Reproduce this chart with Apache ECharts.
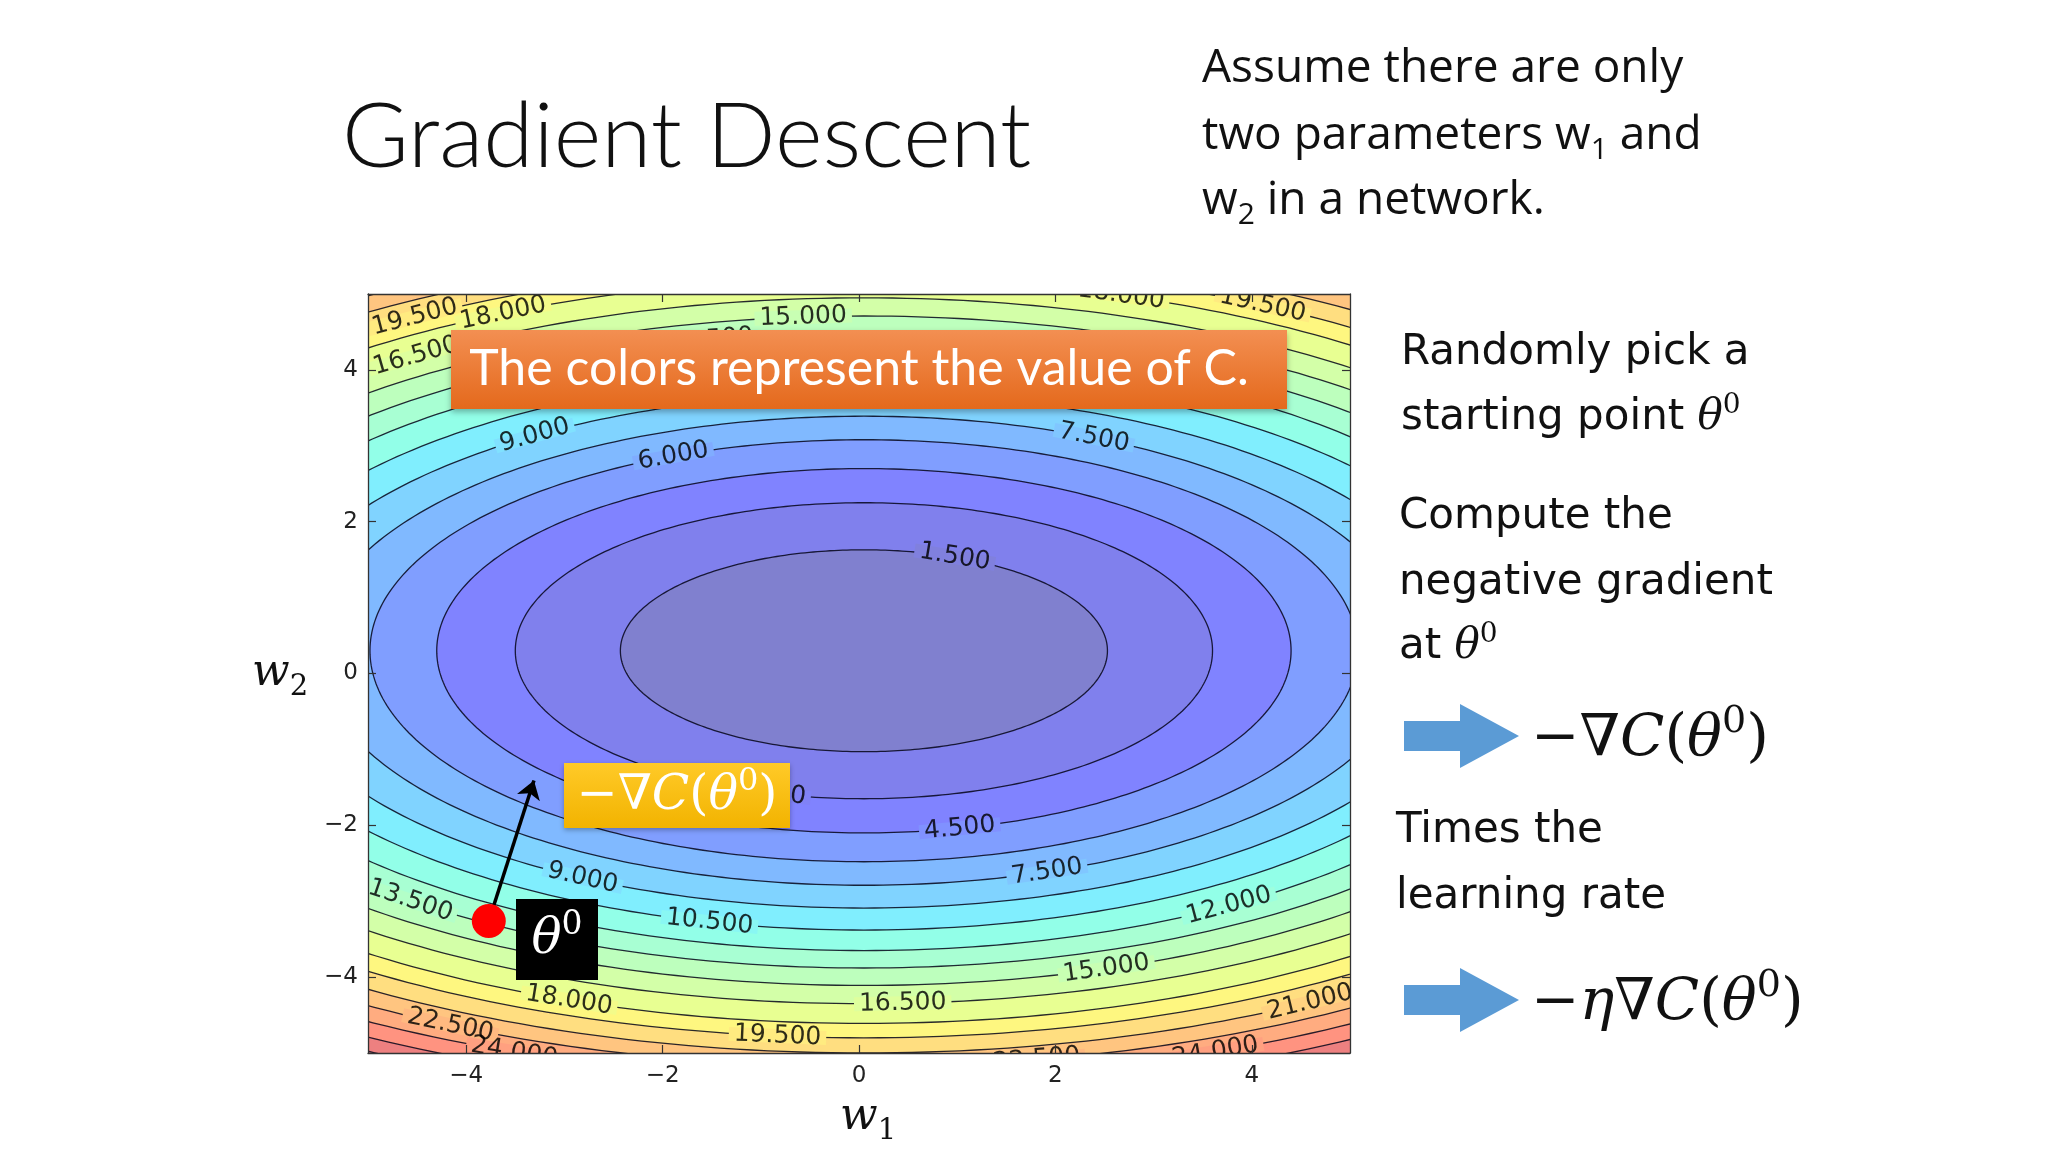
<!DOCTYPE html>
<html><head><meta charset="utf-8">
<script src="https://cdn.jsdelivr.net/npm/echarts@6/dist/echarts.min.js"></script>
<style>html,body{margin:0;padding:0;background:#fff}#c{width:2048px;height:1152px}</style>
</head><body><div id="c"></div>
<script>
// ---------------- data ----------------
// contour levels of C and the semi-axes (in w1 / w2 units) of each level curve
const levels      = [1.5, 3, 4.5, 6, 7.5, 9, 10.5, 12, 13.5, 15, 16.5, 18, 19.5, 21, 22.5, 24, 25.5, 27, 28.5];
const semiAxisW1  = [2.48, 3.55, 4.35, 5.03, 5.59, 6.12, 6.61, 7.07, 7.5, 7.91, 8.29, 8.66, 9.01, 9.35, 9.68, 10.0, 10.31, 10.61, 10.9];
const semiAxisW2  = [1.33, 1.95, 2.40, 2.78, 3.09, 3.39, 3.68, 3.95, 4.18, 4.41, 4.65, 4.91, 5.1, 5.3, 5.48, 5.66, 5.84, 6.0, 6.17];
const minimumAt   = [0.05, 0.3];
const xTicks      = [-4, -2, 0, 2, 4];
const yTicks      = [-4, -2, 0, 2, 4];
// inline contour labels: level, approximate position
const labelLevels = [19.5, 18, 16.5, 13.5, 15, 18, 19.5, 9, 6, 7.5, 1.5, 3, 4.5, 7.5, 9, 10.5, 12, 13.5, 15, 16.5, 18, 19.5, 21, 22.5, 24, 22.5, 24];
const labelW1     = [-4.55, -3.66, -4.58, -1.56, -0.58, 2.63, 4.1, -3.4, -1.94, 2.48, 1.04, -0.9, 1.01, 1.9, -2.78, -1.49, 3.7, -4.55, 2.49, 0.44, -2.89, -0.81, 4.5, -4.09, -3.45, 1.77, 3.53];
const labelW2     = [4.72, 4.79, 4.24, 4.5, 4.78, 4.91, 4.84, 3.22, 2.93, 3.21, 1.62, -1.57, -2.0, -2.59, -2.66, -3.2, -3.0, -2.98, -3.84, -4.28, -4.21, -4.66, -4.24, -4.55, -4.9, -4.97, -4.84];
// starting point theta0 and tip of the negative-gradient arrow
const theta0  = [-3.77, -3.26];
const gradTip = [-3.31, -1.41];

// ---------------- styling helpers ----------------
function interp(t, pts){
  for (let i = 1; i < pts.length; i++){
    if (t <= pts[i][0]){
      const a = pts[i-1], b = pts[i];
      return a[1] + (b[1]-a[1]) * (t-a[0]) / (b[0]-a[0]);
    }
  }
  return pts[pts.length-1][1];
}
function jetRGB(t){
  return [
    interp(t, [[0,0],[0.35,0],[0.66,1],[0.89,1],[1,0.5]]),
    interp(t, [[0,0],[0.125,0],[0.375,1],[0.64,1],[0.91,0],[1,0]]),
    interp(t, [[0,0.5],[0.11,1],[0.34,1],[0.65,0],[1,0]])
  ];
}
const ALPHA = 0.5;
function bandRGB(i){
  if (i >= levels.length) i = levels.length - 1;
  const lo = i === 0 ? 0 : levels[i-1], hi = levels[i];
  const t = ((lo + hi) / 2) / levels[levels.length-1];
  return jetRGB(t).map(v => Math.round(255 * (ALPHA * v + 1 - ALPHA)));
}
const rgb = c => 'rgb(' + c.join(',') + ')';
const LINE = 'rgba(5,5,25,0.85)';

function clipOf(params){
  const cs = params.coordSys;
  return {type:'rect', shape:{x:cs.x, y:cs.y, width:cs.width, height:cs.height}};
}
function renderContour(params, api){
  const L = api.value(0), rx = api.value(1), ry = api.value(2);
  const idx = levels.indexOf(L);
  const pts = [];
  const N = 360;
  for (let k = 0; k < N; k++){
    const a = k / N * Math.PI * 2;
    pts.push(api.coord([minimumAt[0] + rx * Math.cos(a), minimumAt[1] + ry * Math.sin(a)]));
  }
  return {type:'group', clipPath: clipOf(params), children:[
    {type:'polygon', shape:{points: pts},
     style:{fill: rgb(bandRGB(idx)), stroke: idx === levels.length-1 ? null : LINE, lineWidth: 1.3}}
  ]};
}
function renderLabel(params, api){
  const x = api.value(0), y = api.value(1), L = api.value(2);
  const idx = levels.indexOf(L);
  const rx = semiAxisW1[idx], ry = semiAxisW2[idx];
  const a = Math.atan2((y - minimumAt[1]) / ry, (x - minimumAt[0]) / rx);
  const p = api.coord([minimumAt[0] + rx * Math.cos(a), minimumAt[1] + ry * Math.sin(a)]);
  const s = api.size([1, 1]);
  const dxp = -rx * Math.sin(a) * s[0];
  const dyp = -ry * Math.cos(a) * s[1];
  let ang = Math.atan2(dyp, dxp);
  if (ang > Math.PI/2) ang -= Math.PI;
  if (ang < -Math.PI/2) ang += Math.PI;
  const c1 = bandRGB(idx), c2 = bandRGB(idx+1);
  const bg = rgb(c1.map((v,k) => Math.round((v + c2[k]) / 2)));
  return {type:'group', clipPath: clipOf(params), children:[
    {type:'text', x: p[0], y: p[1], rotation: -ang,
     style:{text: L.toFixed(3), fontFamily:'DejaVu Sans', fontSize: 25, fill:'rgba(0,0,0,0.82)',
            align:'center', verticalAlign:'middle', textAlign:'center', textVerticalAlign:'middle',
            backgroundColor: bg, padding:[0,5], lineHeight: 14}}
  ]};
}
const fmt = v => (v < 0 ? '\u2212' + (-v) : String(v));

// math rich styles
function mathRich(size, color){
  const lh = Math.round(size * 1.25);
  return {
    m:{fontFamily:'DejaVu Serif', fontSize:size, fill:color, color:color, lineHeight:lh},
    i:{fontFamily:'DejaVu Serif', fontStyle:'italic', fontSize:size, fill:color, color:color, lineHeight:lh},
    s:{fontFamily:'DejaVu Serif', fontSize:Math.round(size*0.66), fill:color, color:color, lineHeight:Math.round(size*0.76), verticalAlign:'top'},
    b:{fontFamily:'DejaVu Serif', fontSize:Math.round(size*0.66), fill:color, color:color, lineHeight:Math.round(size*0.76), verticalAlign:'bottom'},
    n:{fontFamily:'DejaVu Sans', fontSize:42, fill:color, color:color, lineHeight:lh},
    o:{fontFamily:'Open Sans', fontSize:46, fill:color, color:color, lineHeight:lh},
    ob:{fontFamily:'Open Sans', fontSize:30, fill:color, color:color, lineHeight:Math.round(size*0.6), verticalAlign:'bottom'}
  };
}
function txt(x, y, text, rich, extra){
  return Object.assign({type:'text', x:x, y:y, z:100,
    style:{text:text, rich:rich, align:'left', verticalAlign:'middle', textAlign:'left', textVerticalAlign:'middle'}}, extra || {});
}
function ctxt(x, y, text, rich){
  return {type:'text', x:x, y:y, z:101,
    style:{text:text, rich:rich, align:'center', verticalAlign:'middle', textAlign:'center', textVerticalAlign:'middle'}};
}
function blueArrow(yc){
  return {type:'polygon', z:100, shape:{points:[[1404,yc-15],[1460,yc-15],[1460,yc-32],[1519,yc],[1460,yc+32],[1460,yc+15],[1404,yc+15]]},
          style:{fill:'#5b9bd5'}};
}

const K = '#111';
const contourData = levels.map((L, i) => [L, semiAxisW1[i], semiAxisW2[i]]).reverse();
const labelData = labelLevels.map((L, i) => [labelW1[i], labelW2[i], L]);

const axisCommon = {type:'value', min:-5, max:5, z:10,
  axisLine:{show:true, onZero:false, lineStyle:{color:'#333', width:1.3}},
  splitLine:{show:false}};

const option = {
  animation:false,
  backgroundColor:'#ffffff',
  grid:{left:368, top:294, width:982, height:759, show:false},
  xAxis:[
    Object.assign({}, axisCommon, {position:'bottom',
      axisTick:{show:true, inside:true, length:8, customValues:xTicks, lineStyle:{color:'#333', width:1.2}},
      axisLabel:{show:true, customValues:xTicks, formatter:fmt, margin:12, fontFamily:'DejaVu Sans', fontSize:23, color:'#222'}}),
    Object.assign({}, axisCommon, {position:'top',
      axisTick:{show:true, inside:true, length:8, customValues:xTicks, lineStyle:{color:'#333', width:1.2}},
      axisLabel:{show:false}})
  ],
  yAxis:[
    Object.assign({}, axisCommon, {position:'left',
      axisTick:{show:true, inside:true, length:8, customValues:yTicks, lineStyle:{color:'#333', width:1.2}},
      axisLabel:{show:true, customValues:yTicks, formatter:fmt, margin:10, fontFamily:'DejaVu Sans', fontSize:23, color:'#222'}}),
    Object.assign({}, axisCommon, {position:'right',
      axisTick:{show:true, inside:true, length:8, customValues:yTicks, lineStyle:{color:'#333', width:1.2}},
      axisLabel:{show:false}})
  ],
  series:[
    {type:'custom', name:'C', renderItem:renderContour, data:contourData, clip:true, z:1, silent:true},
    {type:'custom', name:'labels', renderItem:renderLabel, data:labelData, clip:true, z:2, silent:true},
    {type:'lines', coordinateSystem:'cartesian2d', data:[{coords:[theta0, gradTip]}],
     symbol:['none','arrow'], symbolSize:18, lineStyle:{color:'#000', width:3.5, opacity:1}, z:4, silent:true},
    {type:'scatter', data:[theta0], symbolSize:34, itemStyle:{color:'#ff0000', opacity:1}, z:5, silent:true}
  ],
  graphic:{elements:[
    // title
    txt(342, 138, '{a|Gradient Descent}', {a:{fontFamily:'Lato', fontWeight:300, fontSize:91, fill:K, color:K}}),
    // top-right note
    txt(1202, 69, '{o|Assume there are only}', mathRich(46, K)),
    txt(1202, 136, '{o|two parameters w}{ob|1}{o| and}', mathRich(46, K)),
    txt(1202, 201, '{o|w}{ob|2}{o| in a network.}', mathRich(46, K)),
    // right panel
    txt(1401, 353, '{n|Randomly pick a}', mathRich(42, K)),
    txt(1401, 418, '{n|starting point }{i|θ}{s|0}', mathRich(42, K)),
    txt(1399, 517, '{n|Compute the}', mathRich(42, K)),
    txt(1399, 583, '{n|negative gradient}', mathRich(42, K)),
    txt(1399, 647, '{n|at }{i|θ}{s|0}', mathRich(42, K)),
    blueArrow(736),
    txt(1531, 740, '{m|−}{i|∇C}{m|(}{i|θ}{s|0}{m|)}', mathRich(58, K)),
    txt(1396, 831, '{n|Times the}', mathRich(42, K)),
    txt(1396, 897, '{n|learning rate}', mathRich(42, K)),
    blueArrow(1000),
    txt(1531, 1004, '{m|−}{i|η∇C}{m|(}{i|θ}{s|0}{m|)}', mathRich(58, K)),
    // axis names
    txt(252, 674, '{i|w}{b|2}', mathRich(44, K)),
    txt(840, 1118, '{i|w}{b|1}', mathRich(44, K)),
    // orange callout
    {type:'rect', z:100, shape:{x:451, y:330, width:836, height:79},
     style:{fill:{type:'linear', x:0, y:0, x2:0, y2:1, colorStops:[{offset:0, color:'#f38f52'},{offset:1, color:'#e4691c'}]},
            shadowBlur:6, shadowOffsetY:3, shadowColor:'rgba(0,0,0,0.3)'}},
    ctxt(859, 369, '{a|The colors represent the value of C.}', {a:{fontFamily:'Lato', fontSize:50, fill:'#fff', color:'#fff'}}),
    // yellow callout
    {type:'rect', z:100, shape:{x:564, y:763, width:226, height:65},
     style:{fill:{type:'linear', x:0, y:0, x2:0, y2:1, colorStops:[{offset:0, color:'#ffca28'},{offset:1, color:'#f2b300'}]},
            shadowBlur:5, shadowOffsetY:2, shadowColor:'rgba(0,0,0,0.3)'}},
    ctxt(677, 796, '{m|−}{i|∇C}{m|(}{i|θ}{s|0}{m|)}', mathRich(49, '#fff')),
    // theta0 box
    {type:'rect', z:100, shape:{x:516, y:899, width:82, height:81}, style:{fill:'#000'}},
    ctxt(557, 940, '{i|θ}{s|0}', mathRich(50, '#fff'))
  ]}
};
const chart = echarts.init(document.getElementById('c'), null, {renderer:'canvas'});
chart.setOption(option);
</script></body></html>
